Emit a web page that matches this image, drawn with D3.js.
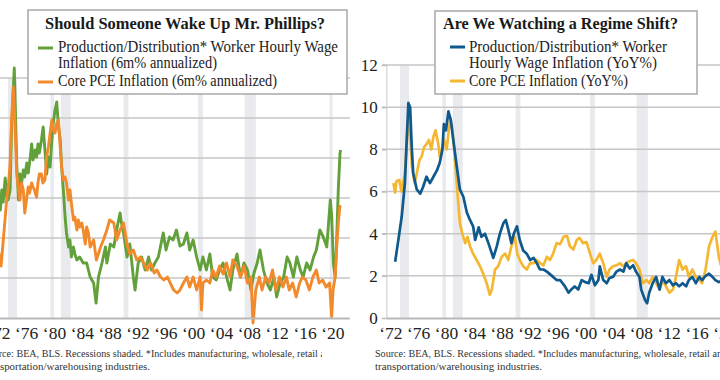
<!DOCTYPE html>
<html><head><meta charset="utf-8">
<script src="https://cdn.jsdelivr.net/npm/d3@7"></script>
<style>body{margin:0;background:#fff;} svg{display:block;}</style>
</head><body>
<script>
// ---------- DATA ----------
const tickYears = [1972,1976,1980,1984,1988,1992,1996,2000,2004,2008,2012,2016,2020];
const tickLabels = tickYears.map(y => '\u2018' + String(y).slice(2));
const yTicks = [0,2,4,6,8,10,12];
const recessions = [[1973.9,1975.2],[1980.0,1980.5],[1981.5,1982.9],[1990.5,1991.2],[2001.2,2001.9],[2007.9,2009.5],[2020.1,2020.3]];

// Left: 6m% annualized
const leftWage = [[1972.5,6.0],[1972.8,5.4],[1973.0,6.4],[1973.2,5.8],[1973.5,7.0],[1973.7,6.1],[1973.9,5.9],[1974.2,6.4],[1974.4,9.4],[1974.8,12.5],[1975.15,7.75],[1975.4,5.9],[1975.6,7.2],[1975.85,6.75],[1976.1,7.4],[1976.3,7.05],[1976.6,7.75],[1976.8,7.25],[1977.1,8.05],[1977.3,8.7],[1977.5,7.9],[1977.8,8.4],[1978.0,8.05],[1978.2,8.7],[1978.4,8.25],[1978.7,8.9],[1978.95,9.55],[1979.2,8.4],[1979.45,7.2],[1979.7,8.05],[1979.95,7.55],[1980.2,8.9],[1980.4,9.75],[1980.65,10.4],[1980.9,10.8],[1981.15,9.55],[1981.4,8.9],[1981.6,7.55],[1981.85,6.4],[1982.1,5.05],[1982.3,4.25],[1982.6,3.55],[1982.8,3.9],[1983.0,3.05],[1983.3,3.55],[1983.5,3.2],[1983.8,2.9],[1984.2,3.05],[1984.7,2.75],[1985.2,2.75],[1985.7,2.05],[1986.2,1.75],[1986.55,0.75],[1986.9,2.05],[1987.4,2.75],[1987.9,3.55],[1988.1,2.75],[1988.6,3.7],[1989.1,3.55],[1989.5,4.4],[1990.0,5.25],[1990.2,4.75],[1990.5,4.25],[1991.0,3.05],[1991.4,3.7],[1991.9,2.05],[1992.15,1.4],[1992.6,2.75],[1993.1,3.05],[1993.6,2.4],[1994.1,3.05],[1994.5,2.4],[1995.0,2.75],[1995.5,3.05],[1996.2,4.25],[1996.6,3.4],[1997.1,4.05],[1997.6,3.9],[1998.1,4.4],[1998.6,3.6],[1999.1,3.7],[1999.6,4.25],[2000.0,3.4],[2000.5,3.9],[2001.0,3.05],[2001.5,2.4],[2001.9,3.05],[2002.4,2.4],[2002.9,3.2],[2003.3,2.05],[2003.8,1.9],[2004.3,2.4],[2004.8,2.75],[2005.3,2.05],[2005.8,1.4],[2006.2,2.4],[2006.8,3.2],[2007.3,2.05],[2007.8,2.75],[2008.3,2.4],[2008.8,1.4],[2009.2,2.2],[2009.7,2.75],[2010.1,3.4],[2010.6,2.4],[2011.1,1.75],[2011.6,1.4],[2012.1,2.05],[2012.5,1.05],[2013.0,1.75],[2013.5,2.05],[2014.0,3.05],[2014.4,2.75],[2014.9,2.05],[2015.4,3.05],[2015.9,2.4],[2016.3,2.05],[2016.8,2.75],[2017.3,2.4],[2017.8,3.05],[2018.2,3.4],[2018.7,4.4],[2019.2,4.05],[2019.7,3.55],[2020.2,5.9],[2020.4,5.1],[2020.65,2.75],[2020.9,2.05],[2021.1,3.7],[2021.35,6.4],[2021.6,8.25],[2021.7,8.4]];
const leftPce = [[1972.5,3.4],[1972.75,2.9],[1972.9,2.6],[1973.1,3.4],[1973.5,5.05],[1973.7,5.9],[1973.9,6.4],[1974.2,7.75],[1974.4,9.75],[1974.65,11.55],[1974.9,9.75],[1975.15,7.2],[1975.4,6.4],[1975.6,5.9],[1975.85,6.75],[1976.1,6.4],[1976.3,5.25],[1976.55,5.9],[1976.8,6.55],[1977.0,6.25],[1977.3,6.75],[1977.5,6.55],[1977.7,6.4],[1978.0,6.05],[1978.2,6.75],[1978.4,7.2],[1978.7,7.2],[1978.9,6.75],[1979.2,6.9],[1979.45,8.05],[1979.7,8.55],[1979.95,9.25],[1980.2,9.9],[1980.4,9.4],[1980.65,9.25],[1980.9,9.75],[1981.15,9.9],[1981.4,8.55],[1981.6,7.55],[1981.85,6.9],[1982.1,7.05],[1982.3,6.75],[1982.6,5.9],[1982.8,6.4],[1983.0,5.75],[1983.3,4.9],[1983.5,5.05],[1983.8,4.4],[1984.0,4.9],[1984.2,4.55],[1984.5,4.75],[1984.7,4.4],[1985.0,3.7],[1985.2,4.55],[1985.45,4.25],[1985.7,3.55],[1986.2,3.9],[1986.6,2.9],[1987.2,3.55],[1987.6,3.9],[1988.1,4.4],[1988.5,4.9],[1989.1,4.75],[1989.5,3.9],[1990.0,4.4],[1990.5,4.75],[1991.0,3.7],[1991.4,3.2],[1991.9,3.4],[1992.4,2.9],[1992.9,3.05],[1993.4,2.75],[1993.9,2.4],[1994.4,2.75],[1994.9,2.25],[1995.3,2.4],[1995.8,2.05],[1996.3,1.9],[1996.8,2.05],[1997.2,1.75],[1997.7,1.4],[1998.2,1.25],[1998.6,1.4],[1999.1,1.75],[1999.6,2.05],[2000.0,1.55],[2000.5,2.05],[2001.0,1.4],[2001.5,2.05],[2001.7,0.4],[2001.9,1.75],[2002.4,1.9],[2002.9,1.75],[2003.3,2.4],[2003.8,2.05],[2004.3,2.6],[2004.8,2.2],[2005.3,2.75],[2005.8,2.05],[2006.2,2.9],[2006.8,2.6],[2007.3,2.05],[2007.8,2.6],[2008.3,1.75],[2008.8,2.05],[2009.1,-0.25],[2009.5,1.4],[2010.0,2.05],[2010.4,1.4],[2010.9,2.05],[2011.4,1.75],[2011.9,2.4],[2012.4,1.4],[2012.9,2.05],[2013.4,1.55],[2013.9,2.05],[2014.3,1.4],[2014.8,1.75],[2015.3,1.05],[2015.8,1.75],[2016.2,2.05],[2016.7,1.9],[2017.2,1.4],[2017.7,2.05],[2018.2,2.4],[2018.6,1.75],[2019.1,1.9],[2019.6,1.55],[2020.1,1.75],[2020.4,0.07],[2020.6,1.4],[2020.9,2.05],[2021.1,3.4],[2021.35,4.75],[2021.6,5.65]];

// Right: YoY%
const rightWage = [[1973.2,2.67],[1973.66,3.7],[1974.14,4.8],[1974.6,6.4],[1974.86,8.45],[1975.1,10.2],[1975.35,10.0],[1975.6,8.0],[1975.8,6.85],[1976.3,6.1],[1976.8,5.9],[1977.2,6.2],[1977.7,6.7],[1978.2,6.4],[1978.7,6.7],[1979.2,7.0],[1979.6,7.35],[1980.0,8.0],[1980.2,9.2],[1980.5,8.9],[1980.85,9.8],[1981.2,9.4],[1981.55,8.45],[1982.05,7.2],[1982.5,6.1],[1983.0,5.75],[1983.5,5.0],[1983.95,4.65],[1984.4,4.35],[1984.7,3.7],[1985.2,4.3],[1985.6,3.85],[1986.1,4.0],[1986.6,3.55],[1987.1,3.05],[1987.3,2.85],[1987.8,3.4],[1988.25,4.0],[1988.75,4.5],[1989.1,4.65],[1989.45,4.2],[1989.9,3.55],[1990.25,4.0],[1990.7,4.35],[1991.1,3.7],[1991.6,3.2],[1992.1,3.05],[1992.6,2.75],[1993.1,2.85],[1993.55,2.6],[1994.0,2.3],[1994.5,2.3],[1995.0,2.2],[1995.9,1.95],[1996.4,1.8],[1996.9,1.8],[1997.6,1.5],[1998.1,1.2],[1998.5,1.35],[1999.0,1.5],[1999.5,1.35],[2000.0,1.8],[2000.5,1.7],[2001.0,1.65],[2001.4,2.05],[2001.9,1.55],[2002.4,1.8],[2002.6,2.45],[2003.1,1.8],[2003.6,1.65],[2004.0,1.9],[2004.5,1.95],[2005.0,2.2],[2005.5,2.3],[2006.0,2.2],[2006.4,2.6],[2006.9,2.35],[2007.4,2.5],[2007.8,2.2],[2008.3,1.95],[2008.55,1.35],[2009.1,0.85],[2009.4,0.7],[2009.7,1.2],[2010.2,1.65],[2010.7,1.95],[2011.2,1.35],[2011.6,1.95],[2012.1,1.65],[2012.6,1.8],[2013.1,1.55],[2013.55,1.65],[2014.0,1.5],[2014.5,1.65],[2015.0,1.5],[2015.4,1.8],[2015.9,1.95],[2016.4,1.65],[2016.9,1.95],[2017.3,1.8],[2017.8,2.0],[2018.3,2.1],[2018.8,1.95],[2019.2,1.8],[2019.7,1.7],[2020.0,1.75]];
const rightPce = [[1972.95,6.4],[1973.2,5.95],[1973.4,6.5],[1973.8,6.55],[1974.1,6.0],[1974.6,6.85],[1975.0,8.9],[1975.15,9.55],[1975.35,8.75],[1975.6,7.2],[1976.0,6.4],[1976.3,6.85],[1976.7,7.5],[1977.0,7.65],[1977.35,8.1],[1977.7,8.25],[1978.05,8.45],[1978.4,8.0],[1978.7,8.6],[1979.0,8.9],[1979.4,8.25],[1979.6,7.65],[1979.9,8.0],[1980.2,8.45],[1980.6,8.0],[1980.85,8.75],[1981.1,9.4],[1981.35,9.1],[1981.7,8.0],[1982.05,6.4],[1982.3,5.3],[1982.5,4.5],[1982.85,4.0],[1983.25,3.55],[1983.6,3.85],[1983.95,3.4],[1984.4,3.05],[1984.9,2.75],[1985.4,2.45],[1985.85,2.1],[1986.35,1.65],[1986.8,1.1],[1987.1,1.35],[1987.55,2.3],[1988.0,2.45],[1988.5,2.9],[1989.0,3.05],[1989.45,2.75],[1989.9,3.4],[1990.4,3.85],[1990.75,3.05],[1991.1,2.75],[1991.6,2.45],[1992.1,2.3],[1992.6,2.6],[1993.1,2.6],[1993.55,2.75],[1994.0,2.6],[1994.5,2.5],[1995.0,2.9],[1995.45,2.75],[1995.9,3.05],[1996.4,3.55],[1996.9,3.5],[1997.4,3.85],[1997.9,3.9],[1998.3,3.4],[1998.8,3.25],[1999.3,3.7],[1999.7,3.8],[2000.2,3.55],[2000.7,3.6],[2001.2,3.05],[2001.65,2.6],[2002.1,2.75],[2002.6,3.05],[2003.1,2.6],[2003.6,1.95],[2004.0,2.3],[2004.5,2.45],[2005.0,2.5],[2005.5,2.6],[2006.0,2.45],[2006.4,2.6],[2006.9,2.7],[2007.4,2.75],[2007.8,2.6],[2008.3,2.3],[2008.8,1.65],[2009.3,1.8],[2009.7,1.65],[2010.2,1.95],[2010.7,1.65],[2011.2,1.35],[2011.6,1.8],[2012.1,1.5],[2012.6,1.2],[2013.1,1.35],[2013.55,1.95],[2014.0,2.75],[2014.5,2.3],[2015.0,2.45],[2015.4,1.95],[2015.9,2.3],[2016.4,1.95],[2016.9,1.8],[2017.3,1.65],[2017.8,2.3],[2018.3,3.4],[2018.8,3.85],[2019.2,4.1],[2019.5,3.4],[2019.7,2.9],[2020.0,2.5]];

const sourceLines = ["Source: BEA, BLS. Recessions shaded. *Includes manufacturing, wholesale, retail and", "transportation/warehousing industries."];

// ---------- DRAW ----------
const FONT = '"Liberation Serif", "Times New Roman", serif';
const svg = d3.select('body').append('svg').attr('width',720).attr('height',380)
  .style('font-family', FONT);
const defs = svg.append('defs');
defs.append('clipPath').attr('id','leftSrcClip').append('rect').attr('x',-40).attr('y',340).attr('width',362).attr('height',40);

function panel(cfg){
  const g = svg.append('g');
  const x = d3.scaleLinear().domain([1972,2023]).range([cfg.x0, cfg.x0 + 51*6.96]);
  const y = d3.scaleLinear().domain([0,12]).range([318, cfg.top]);
  const xR = x.range()[1];

  g.append('g').selectAll('rect').data(recessions).join('rect')
    .attr('x', d => x(d[0])).attr('width', d => Math.max(3, x(d[1]) - x(d[0])))
    .attr('y', cfg.top).attr('height', 318 - cfg.top).attr('fill', '#e9eaee');

  g.append('g').selectAll('line').data(yTicks.filter(t => t > 0)).join('line')
    .attr('x1', cfg.gridX0).attr('x2', xR).attr('y1', d => y(d)).attr('y2', d => y(d))
    .attr('stroke', '#c6c6c6').attr('stroke-width', 1.5);

  if (cfg.showY) {
    g.append('line').attr('x1', x(1972)).attr('x2', x(1972)).attr('y1', cfg.top).attr('y2', 318)
      .attr('stroke', '#d4d4d4').attr('stroke-width', 1.2);
    const ya = g.append('g').attr('transform', `translate(${x(1972)},0)`)
      .call(d3.axisLeft(y).tickValues(yTicks).tickSize(5).tickPadding(4).tickFormat(d3.format('d')));
    ya.select('.domain').remove();
    ya.selectAll('line').attr('stroke', '#bdbdbd').attr('stroke-width', 1.5);
    ya.selectAll('text').attr('font-family', FONT).attr('font-size', 17).attr('fill', '#222');
  }

  const line = d3.line().x(d => x(d[0])).y(d => y(d[1])).curve(d3.curveLinear);
  cfg.series.forEach(s => {
    g.append('path').datum(s.data).attr('d', line).attr('fill', 'none')
      .attr('stroke', s.color).attr('stroke-width', s.w).attr('stroke-linejoin', 'round');
  });

  g.append('line').attr('x1', x(1972)).attr('x2', xR).attr('y1', 318.5).attr('y2', 318.5)
    .attr('stroke', '#b8b8b8').attr('stroke-width', 2);

  const xa = g.append('g').attr('transform', 'translate(0,318)')
    .call(d3.axisBottom(x).tickValues(tickYears).tickSize(0).tickPadding(9)
      .tickFormat((d, i) => tickLabels[i]));
  xa.select('.domain').remove();
  xa.selectAll('text').attr('font-family', FONT).attr('font-size', 17.5).attr('fill', '#222')
    .attr('dx', 3.5);

  // legend box
  const b = cfg.box;
  g.append('rect').attr('x', b.x).attr('y', b.y).attr('width', b.w).attr('height', b.h)
    .attr('fill', '#fff').attr('stroke', '#a8a8a8').attr('stroke-width', 1.5);
  g.append('text').attr('x', b.titleX).attr('y', 29).attr('font-size', 17).attr('font-weight', 'bold')
    .attr('fill', '#1a1a1a').attr('textLength', b.titleW).attr('lengthAdjust', 'spacingAndGlyphs').text(cfg.title);
  cfg.legend.forEach(l => {
    g.append('line').attr('x1', b.dashX).attr('x2', b.dashX + 15).attr('y1', l.dy).attr('y2', l.dy)
      .attr('stroke', l.color).attr('stroke-width', 3);
    l.lines.forEach((t, i) => {
      g.append('text').attr('x', b.textX).attr('y', l.y0 + i * 16).attr('font-size', 16).attr('fill', '#222')
        .attr('textLength', l.widths[i]).attr('lengthAdjust', 'spacingAndGlyphs').text(t);
    });
  });

  // source
  const src = g.append('g');
  if (cfg.clipSrc) src.attr('clip-path', 'url(#leftSrcClip)');
  sourceLines.forEach((t, i) => {
    src.append('text').attr('x', cfg.srcX).attr('y', 357 + i * 13).attr('font-size', 10.8).attr('fill', '#333')
      .attr('textLength', i === 0 ? 352 : 167).attr('lengthAdjust', 'spacingAndGlyphs').text(t);
  });
}

panel({
  x0: -5.2, top: 78, gridX0: -5.2, showY: false, clipSrc: true, srcX: -17,
  series: [{data: leftWage, color: '#61a03a', w: 2.9}, {data: leftPce, color: '#f28a2c', w: 2.9}],
  title: 'Should Someone Wake Up Mr. Phillips?',
  box: {x: 28, y: 10, w: 319, h: 84, titleX: 45, titleW: 280, dashX: 38, textX: 58},
  legend: [
    {color: '#61a03a', dy: 48, y0: 52, lines: ['Production/Distribution* Worker Hourly Wage', 'Inflation (6m% annualized)'], widths: [280, 159]},
    {color: '#f28a2c', dy: 82, y0: 86, lines: ['Core PCE Inflation (6m% annualized)'], widths: [219]}
  ]
});

panel({
  x0: 386.8, top: 65, gridX0: 382, showY: true, clipSrc: false, srcX: 375,
  series: [{data: rightPce, color: '#f5b731', w: 2.7}, {data: rightWage, color: '#10598c', w: 2.7}],
  title: 'Are We Watching a Regime Shift?',
  box: {x: 435, y: 11, w: 262, h: 83, titleX: 443, titleW: 235, dashX: 450, textX: 469},
  legend: [
    {color: '#10598c', dy: 47, y0: 52, lines: ['Production/Distribution* Worker', 'Hourly Wage Inflation (YoY%)'], widths: [198, 188]},
    {color: '#f5b731', dy: 81, y0: 86, lines: ['Core PCE Inflation (YoY%)'], widths: [159]}
  ]
});
</script>
</body></html>
